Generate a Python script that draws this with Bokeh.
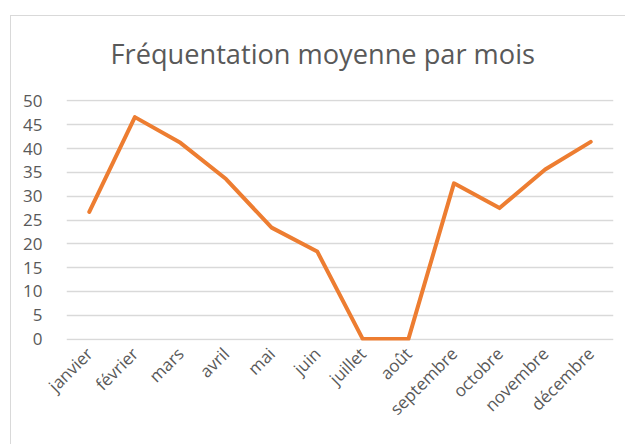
from math import pi
from bokeh.plotting import figure
from bokeh.models import Range1d, SingleIntervalTicker
from bokeh.embed import file_html
from bokeh.resources import INLINE

months = ["janvier", "février", "mars", "avril", "mai", "juin", "juillet",
          "août", "septembre", "octobre", "novembre", "décembre"]
frequentation = [26.7, 46.6, 41.2, 33.6, 23.4, 18.4, 0, 0, 32.7, 27.5, 35.6, 41.4]
title_text = "Fréquentation moyenne par mois"

FONT = "Open Sans"
TXT = "#595959"
EDGE = "#D9D9D9"

chart_frame_css = (
    f"linear-gradient({EDGE}, {EDGE}) 10px 15px / 1px 100% no-repeat, "
    f"linear-gradient({EDGE}, {EDGE}) 10px 15px / 100% 1px no-repeat, #FFFFFF"
)

p = figure(width=625, height=444, x_range=months, y_range=Range1d(-0.3, 50.3),
           output_backend="svg", toolbar_location=None,
           styles={"background": chart_frame_css},
           min_border_left=66, min_border_right=12, min_border_top=99, min_border_bottom=104)
p.title.text = title_text
p.title.align = "left"
p.title.text_font = FONT
p.title.text_font_size = "27.2px"
p.title.text_font_style = "normal"
p.title.text_color = TXT
p.title.offset = 44
p.title.standoff = 56

p.outline_line_color = None
p.background_fill_color = "white"
p.border_fill_color = None

p.line(x=months, y=frequentation, line_color="#ED7D31", line_width=4,
       line_cap="round", line_join="round")

p.xgrid.grid_line_color = None
p.ygrid.grid_line_color = EDGE
p.ygrid.grid_line_width = 1.5
p.yaxis.ticker = SingleIntervalTicker(interval=5)

for ax in (p.xaxis[0], p.yaxis[0]):
    ax.axis_line_color = None
    ax.major_tick_line_color = None
    ax.minor_tick_line_color = None
    ax.major_label_text_font = FONT
    ax.major_label_text_font_size = "17px"
    ax.major_label_text_color = TXT
p.yaxis.major_label_standoff = 18
p.xaxis.major_label_standoff = 4
p.xaxis.major_label_orientation = pi / 4

open("out.html", "w").write(file_html(p, INLINE))
